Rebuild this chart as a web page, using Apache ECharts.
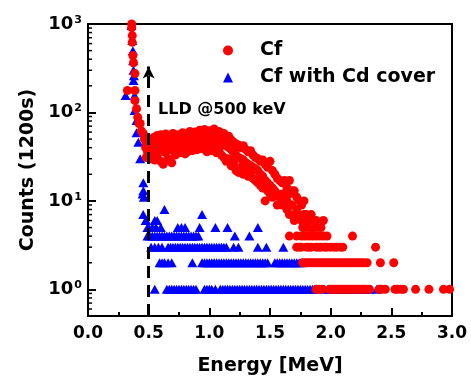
<!DOCTYPE html>
<html>
<head>
<meta charset="utf-8">
<script src="https://cdn.jsdelivr.net/npm/echarts@6/dist/echarts.min.js"></script>
<style>
  html, body { margin: 0; padding: 0; background: #fff; }
  #chart { width: 471px; height: 382px; }
</style>
</head>
<body>
<div id="chart"></div>
<script>
// ---- data: [energy MeV, counts] ----
const cfSteep = [[0.360,1000],[0.360,910],[0.365,740],[0.365,620],[0.370,440],[0.375,365],[0.387,275],[0.325,177],[0.387,177],[0.387,136],[0.400,110],[0.410,88],[0.420,75],[0.440,62],[0.430,75],[0.455,58],[0.465,50],[0.480,45],[0.475,40],[0.480,31],[0.490,36]];

const cfCloud = [[0.50,44],[0.50,33],[0.51,38],[0.52,47],[0.52,30],[0.53,41],[0.54,52],[0.54,34],[0.55,45],[0.55,29],[0.57,55],[0.57,40],[0.57,31],[0.59,48],[0.59,36],[0.60,56],[0.60,43],[0.60,28],[0.62,51],[0.62,39],[0.62,26],[0.64,57],[0.64,46],[0.64,35],[0.66,49],[0.66,41],[0.66,30],[0.68,54],[0.68,44],[0.69,27],[0.70,58],[0.70,47],[0.70,37],[0.72,50],[0.72,42],[0.72,33],[0.74,56],[0.74,45],[0.74,38],[0.76,53],[0.76,48],[0.76,35],[0.78,59],[0.78,46],[0.78,39],[0.80,55],[0.80,50],[0.80,34],[0.82,57],[0.82,44],[0.82,36],[0.84,61],[0.84,49],[0.84,40],[0.86,54],[0.86,47],[0.86,37],[0.88,60],[0.88,51],[0.88,41],[0.90,57],[0.90,45],[0.90,38],[0.92,63],[0.92,52],[0.92,42],[0.94,59],[0.94,48],[0.94,39],[0.96,64],[0.96,53],[0.96,44],[0.98,58],[0.98,50],[0.98,36],[1.00,62],[1.00,55],[1.00,41],[1.02,60],[1.02,49],[1.02,37],[1.04,65],[1.04,53],[1.04,43],[1.06,57],[1.06,47],[1.06,35],[1.08,61],[1.08,50],[1.08,39],[1.10,55],[1.10,46],[1.10,33],[1.12,58],[1.12,44],[1.12,31],[1.14,52],[1.14,42],[1.14,28],[1.16,54],[1.16,40],[1.16,30],[1.18,49],[1.18,38],[1.18,25],[1.20,46],[1.20,36],[1.20,27],[1.22,44],[1.22,33],[1.22,22],[1.24,43],[1.24,31],[1.24,21],[1.26,40],[1.26,30],[1.26,24],[1.28,42],[1.28,29],[1.28,20],[1.30,38],[1.30,27],[1.30,22],[1.32,36],[1.32,26],[1.32,19],[1.34,37],[1.34,25],[1.34,21],[1.36,33],[1.36,24],[1.36,18],[1.38,31],[1.38,23],[1.38,17],[1.40,30],[1.40,22],[1.40,16],[1.42,28],[1.42,20],[1.42,15],[1.44,29],[1.44,19],[1.44,14],[1.46,26],[1.46,17],[1.46,10],[1.48,24],[1.48,16],[1.48,13],[1.50,28],[1.50,15],[1.50,12],[1.52,22],[1.52,14],[1.52,11],[1.54,20],[1.54,13],[1.56,18],[1.56,12],[1.56,9],[1.58,17],[1.58,11],[1.60,16],[1.60,12],[1.60,9],[1.62,17],[1.62,11],[1.64,14],[1.64,10],[1.64,8],[1.66,17],[1.66,12],[1.66,7],[1.68,13],[1.68,9],[1.70,13],[1.70,7],[1.70,6],[1.72,11],[1.72,8],[1.74,10],[1.74,7],[1.76,9],[1.76,6],[1.78,10],[1.78,7],[1.80,7],[1.80,6],[1.82,6],[1.84,7],[1.86,6],[1.88,6],[1.94,6]];

// Cf, energies of the single-count rows
const cfFives = [1.77,1.80,1.83,1.85,1.86,1.89,1.92];
const cfFours = [1.66,1.72,1.76,1.79,1.82,1.85,1.88,1.91,1.94,1.97,2.18];
const cfThrees = [1.72,1.74,1.76,1.80,1.82,1.84,1.88,1.90,1.92,1.95,1.97,2.00,2.03,2.05,2.08,2.10,2.37];
const cfTwos = [1.77,1.79,1.81,1.83,1.85,1.87,1.89,1.91,1.93,1.95,1.97,1.99,2.01,2.03,2.05,2.07,2.09,2.11,2.13,2.15,2.17,2.19,2.21,2.23,2.25,2.27,2.30,2.41,2.52];
const cfOnes = [1.88,1.90,1.93,1.99,2.01,2.03,2.05,2.07,2.09,2.11,2.13,2.15,2.17,2.19,2.21,2.23,2.25,2.27,2.29,2.32,2.40,2.42,2.45,2.53,2.55,2.58,2.60,2.70,2.81,2.93,2.98];

// Cf with Cd cover
const cdSteep = [[0.310,155],[0.358,960],[0.365,650],[0.370,500],[0.372,385],[0.375,300],[0.375,230],[0.378,260],[0.384,155],[0.384,105],[0.400,81],[0.400,59],[0.415,46],[0.430,30],[0.456,16],[0.456,13],[0.460,11],[0.450,12],[0.455,7],[0.475,6],[0.490,5]];
const cdUpper = [[0.63,8],[0.94,7],[0.48,6],[0.55,6],[0.57,6]];
const cdFives = [0.50,0.53,0.56,0.60,0.74,0.77,0.80,0.92,1.05,1.15,1.40];
const cdFours = [0.49,0.51,0.53,0.55,0.57,0.59,0.61,0.63,0.65,0.67,0.69,0.71,0.73,0.75,0.77,0.79,0.81,0.83,0.85,0.87,0.89,0.91,1.21,1.33];
const cdThrees = [0.52,0.55,0.58,0.61,0.66,0.68,0.70,0.72,0.74,0.76,0.78,0.80,0.82,0.84,0.86,0.88,0.90,0.92,0.94,0.96,0.98,1.00,1.02,1.04,1.06,1.08,1.10,1.12,1.14,1.20,1.24,1.40,1.47,1.61];
const cdTwos = [0.59,0.61,0.63,0.66,0.69,0.86,0.94,0.96,0.98,1.00,1.02,1.04,1.06,1.08,1.10,1.12,1.14,1.16,1.18,1.20,1.22,1.24,1.26,1.28,1.30,1.32,1.34,1.36,1.38,1.40,1.42,1.44,1.46,1.48,1.54,1.56,1.58,1.60,1.62,1.64,1.66,1.68,1.70,1.72,1.74,1.76];
const cdOnes = [0.55,0.65,0.67,0.69,0.71,0.73,0.75,0.77,0.79,0.81,0.83,0.85,0.87,0.89,0.96,0.98,1.00,1.02,1.05,1.09,1.11,1.13,1.15,1.17,1.19,1.21,1.23,1.25,1.27,1.29,1.31,1.33,1.35,1.37,1.39,1.41,1.43,1.45,1.47,1.49,1.51,1.53,1.55,1.57,1.59,1.61,1.63,1.65,1.67,1.69,1.71,1.73,1.75,1.77,1.79,1.81,1.83,1.85,1.87,1.95,1.98,2.02,2.05,2.08,2.11,2.14,2.17,2.20,2.24,2.28,2.32,2.38];

// axis ticks
const yMin = 0.5, yMax = 1000;
const yMajor = [1, 10, 100, 1000];
const yMinor = [0.6,0.7,0.8,0.9,2,3,4,5,6,7,8,9,20,30,40,50,60,70,80,90,200,300,400,500,600,700,800,900];
const lldEnergy = 0.5;

const font = 'DejaVu Sans';
const row = (list, n) => list.map(e => [e, n]);

const cfData = cfSteep.concat(cfCloud, row(cfFives, 5), row(cfFours, 4), row(cfThrees, 3), row(cfTwos, 2), row(cfOnes, 1));
const cdData = cdSteep.concat(cdUpper, row(cdFives, 5), row(cdFours, 4), row(cdThrees, 3), row(cdTwos, 2), row(cdOnes, 1));

const chart = echarts.init(document.getElementById('chart'), null, { renderer: 'canvas' });

const boldText = { color: '#000', fontFamily: font, fontWeight: 'bold' };

// short inward ticks on the left axis at 2..9 of each decade
function minorTick(params, api) {
  const p = api.coord([0, api.value(1)]);
  return {
    type: 'line',
    shape: { x1: p[0], y1: p[1], x2: p[0] + 4, y2: p[1] },
    style: { stroke: '#000', lineWidth: 1.5 }
  };
}

chart.setOption({
  animation: false,
  grid: { left: 88, right: 19, top: 24, bottom: 66, show: true, borderColor: '#000', borderWidth: 2 },
  legend: {
    orient: 'vertical',
    left: 218, top: 36,
    itemWidth: 10, itemHeight: 10, itemGap: 8,
    textStyle: Object.assign({ fontSize: 19, padding: [0, 0, 0, 22] }, boldText),
    data: ['Cf', 'Cf with Cd cover']
  },
  graphic: [{
    type: 'text', left: 158, top: 102,
    style: { text: 'LLD @500 keV', font: 'bold 16px "DejaVu Sans"', fill: '#000' }
  }],
  xAxis: {
    type: 'value', min: 0, max: 3, interval: 0.5,
    name: 'Energy [MeV]', nameLocation: 'middle', nameGap: 41,
    nameTextStyle: Object.assign({ fontSize: 19 }, boldText),
    axisLine: { lineStyle: { color: '#000', width: 2 } },
    axisTick: { inside: true, length: 8, lineStyle: { color: '#000', width: 2 } },
    minorTick: { show: true, splitNumber: 2, length: 4, lineStyle: { color: '#000', width: 2 } },
    axisLabel: Object.assign({ fontSize: 17, margin: 9, formatter: v => v.toFixed(1) }, boldText),
    splitLine: { show: false }
  },
  yAxis: {
    type: 'log', logBase: 10, min: yMin, max: yMax,
    name: 'Counts (1200s)', nameLocation: 'middle', nameGap: 48,
    nameTextStyle: Object.assign({ fontSize: 19 }, boldText),
    axisLine: { show: true, lineStyle: { color: '#000', width: 2 } },
    axisTick: { show: true, inside: true, length: 8, lineStyle: { color: '#000', width: 2 } },
    axisLabel: Object.assign({
      fontSize: 18, margin: 6, customValues: yMajor,
      formatter: v => '10{s|' + Math.round(Math.log10(v)) + '}',
      rich: { s: Object.assign({ fontSize: 11, verticalAlign: 'top', padding: [0, 0, 8, 1] }, boldText) }
    }, boldText),
    splitLine: { show: false }
  },
  series: [{
    name: 'Cf', type: 'scatter', symbol: 'circle', symbolSize: 9, z: 3,
    itemStyle: { color: '#ff0000', opacity: 1 },
    data: cfData,
    silent: true,
    markLine: {
      silent: true, symbol: ['none', 'arrow'], symbolSize: [9, 12],
      label: { show: false },
      lineStyle: { color: '#000', width: 3, type: [12, 7], opacity: 1 },
      data: [[{ coord: [lldEnergy, yMin] }, { coord: [lldEnergy, 330] }]]
    }
  }, {
    name: 'Cf with Cd cover', type: 'scatter', symbol: 'triangle', symbolSize: [10, 9], z: 2,
    itemStyle: { color: '#0000ff', opacity: 1 },
    data: cdData,
    silent: true
  }, {
    name: 'minor ticks', type: 'custom', silent: true, clip: false, z: 4,
    renderItem: minorTick,
    data: yMinor.map(v => [0, v])
  }]
});
</script>
</body>
</html>
